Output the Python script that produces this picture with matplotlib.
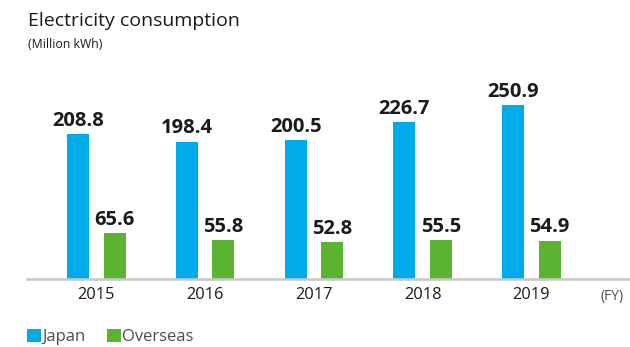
import matplotlib
matplotlib.use("Agg")
import matplotlib.pyplot as plt
from matplotlib.patches import Patch
import numpy as np

plt.rcParams['font.family'] = ['Open Sans', 'DejaVu Sans']

years = ["2015", "2016", "2017", "2018", "2019"]
japan = [208.8, 198.4, 200.5, 226.7, 250.9]
overseas = [65.6, 55.8, 52.8, 55.5, 54.9]

BLUE = "#00abe9"
GREEN = "#5bb431"
TEXT = "#1a1a1a"
GREY_TEXT = "#4d4d4d"

W, H = 630, 347
fig = plt.figure(figsize=(W / 100, H / 100), dpi=100)

# axes box in pixel terms: left edge, right edge, baseline, top
left_px, right_px, base_px, top_px = 27, 630, 278.5, 71.5
ax = fig.add_axes([left_px / W, (H - base_px) / H,
                   (right_px - left_px) / W, (base_px - top_px) / H])

x = np.arange(len(years))
bw = 0.202
off = 0.168
b1 = ax.bar(x - off, japan, bw, color=BLUE, label="Japan", zorder=2)
b2 = ax.bar(x + off, overseas, bw, color=GREEN, label="Overseas", zorder=2)

for bars, vals in ((b1, japan), (b2, overseas)):
    for rect, v in zip(bars, vals):
        ax.annotate(f"{v:.1f}", (rect.get_x() + rect.get_width() / 2, v),
                    xytext=(0, 2.5), textcoords="offset points",
                    ha="center", va="bottom", fontsize=14.5, fontweight="bold",
                    color=TEXT, clip_on=False)

ax.set_xlim(-0.639, 4.908)
ax.set_ylim(0, 300)
ax.set_xticks(x)
ax.set_xticklabels(years, fontsize=11.8, color=TEXT)
ax.tick_params(axis="x", length=0, pad=6)
ax.set_yticks([])
for s in ("top", "right", "left"):
    ax.spines[s].set_visible(False)
ax.spines["bottom"].set_color("#c8c8c8")
ax.spines["bottom"].set_linewidth(1.9)
ax.spines["bottom"].set_zorder(3)

ax.text(4.74, -0.05, "(FY)", transform=ax.get_xaxis_transform(),
        ha="center", va="top", fontsize=10, color=GREY_TEXT)

fig.text(28 / W, 1 - 21 / H, "Electricity consumption", fontsize=14,
         color=TEXT, ha="left", va="center")
fig.text(28 / W, 1 - 45 / H, "(Million kWh)", fontsize=8.8,
         color=TEXT, ha="left", va="center")

handles = [Patch(facecolor=BLUE, label="Japan"),
           Patch(facecolor=GREEN, label="Overseas")]
fig.legend(handles=handles, loc="center left",
           bbox_to_anchor=(20.5 / W, 1 - 337 / H), ncol=2, frameon=False,
           fontsize=12, handlelength=0.84, handleheight=0.84,
           handletextpad=0.08, columnspacing=1.25, borderaxespad=0,
           labelcolor=GREY_TEXT)

fig.savefig("out.png", dpi=100)
